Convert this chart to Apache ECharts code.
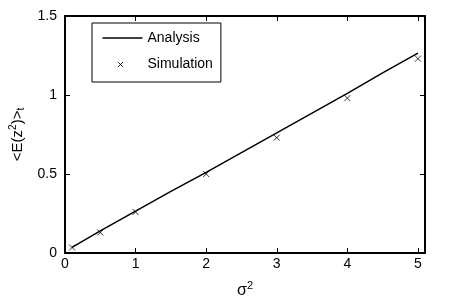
<!DOCTYPE html>
<html><head><meta charset="utf-8">
<script src="https://cdn.jsdelivr.net/npm/echarts@6/dist/echarts.min.js"></script>
<style>html,body{margin:0;padding:0;background:#fff}#c{width:471px;height:308px}</style>
</head><body><div id="c"></div>
<script>
const analysisX = [0.1, 0.5, 1, 1.5, 2, 2.5, 3, 3.5, 4, 4.5, 5];
const analysisY = [0.035, 0.14, 0.265, 0.39, 0.51, 0.635, 0.76, 0.885, 1.01, 1.14, 1.265];
const simX = [0.1, 0.5, 1, 2, 3, 4, 5];
const simY = [0.035, 0.13, 0.26, 0.5, 0.73, 0.98, 1.23];
const xTicks = [0, 1, 2, 3, 4, 5];
const yTicks = [0, 0.5, 1, 1.5];

const FONT = '"Liberation Sans", Arial, sans-serif';
const crossPath = 'path://M0,0L10,10M10,0L0,10';
const legendLine = 'path://M0,0M40,14M0,6.2L40,6.2L40,7.8L0,7.8Z';
const legendCross = 'path://M0,0M40,14M15.5,4.5L20.5,9.5M20.5,4.5L15.5,9.5';
const chart = echarts.init(document.getElementById('c'));
const axisLineStyle = {show: true, onZero: false, lineStyle: {color: '#000', width: 2}};
const tickStyle = {show: true, inside: true, length: 5, lineStyle: {color: '#000', width: 1}};
chart.setOption({
  animation: false,
  backgroundColor: '#fff',
  textStyle: {fontFamily: FONT},
  grid: {left: 62, right: 46, top: 16, bottom: 55},
  xAxis: [
    {type: 'value', position: 'bottom', min: 0, max: 5.1, interval: 1,
      axisLine: axisLineStyle, splitLine: {show: false},
      axisTick: Object.assign({customValues: xTicks}, tickStyle),
      name: '{s|σ}{sup|2}', nameLocation: 'middle', nameGap: 27,
      nameTextStyle: {rich: {s: {fontSize: 16, fontFamily: FONT, color: '#000'}, sup: {fontSize: 11, padding: [0,0,10,0], fontFamily: FONT, color: '#000'}}},
      axisLabel: {color: '#000', fontSize: 14, fontFamily: FONT, margin: 4, customValues: xTicks}},
    {type: 'value', position: 'top', min: 0, max: 5.1, interval: 1,
      axisLine: axisLineStyle, splitLine: {show: false},
      axisTick: Object.assign({customValues: xTicks}, tickStyle),
      axisLabel: {show: false}}
  ],
  yAxis: [
    {type: 'value', position: 'left', min: 0, max: 1.5, interval: 0.5,
      axisLine: axisLineStyle, splitLine: {show: false},
      axisTick: Object.assign({customValues: yTicks}, tickStyle),
      name: '<E(z{sup|2})>{sub|t}', nameLocation: 'middle', nameGap: 38, nameRotate: 90,
      nameTextStyle: {color: '#000', fontSize: 15, fontFamily: FONT,
        rich: {sup: {fontSize: 10, padding: [0,0,9,0], fontFamily: FONT, color: '#000'}, sub: {fontSize: 10, padding: [8,0,0,0], fontFamily: FONT, color: '#000'}}},
      axisLabel: {color: '#000', fontSize: 14, fontFamily: FONT, margin: 8, customValues: yTicks}},
    {type: 'value', position: 'right', min: 0, max: 1.5, interval: 0.5,
      axisLine: axisLineStyle, splitLine: {show: false},
      axisTick: Object.assign({customValues: yTicks}, tickStyle),
      axisLabel: {show: false}}
  ],
  legend: {
    left: 92, top: 23, orient: 'vertical', padding: 8, itemGap: 10,
    itemWidth: 40, itemHeight: 14,
    borderColor: '#000', borderWidth: 1, backgroundColor: '#fff',
    textStyle: {color: '#000', fontSize: 14, fontFamily: FONT, padding: [0,0,0,0]},
    data: [
      {name: 'Analysis', icon: legendLine, itemStyle: {color: '#000', borderWidth: 0}},
      {name: 'Simulation', icon: legendCross, itemStyle: {color: 'none', borderColor: '#000', borderWidth: 1}}
    ]
  },
  series: [
    {name: 'Analysis', type: 'line', symbol: 'none', showSymbol: false,
      lineStyle: {color: '#000', width: 1.5}, itemStyle: {color: '#000'},
      data: analysisX.map((x, i) => [x, analysisY[i]]), z: 3},
    {name: 'Simulation', type: 'scatter', symbol: crossPath, symbolSize: 6,
      itemStyle: {color: 'none', borderColor: '#000', borderWidth: 1},
      data: simX.map((x, i) => [x, simY[i]]), z: 4}
  ]
});
</script></body></html>
